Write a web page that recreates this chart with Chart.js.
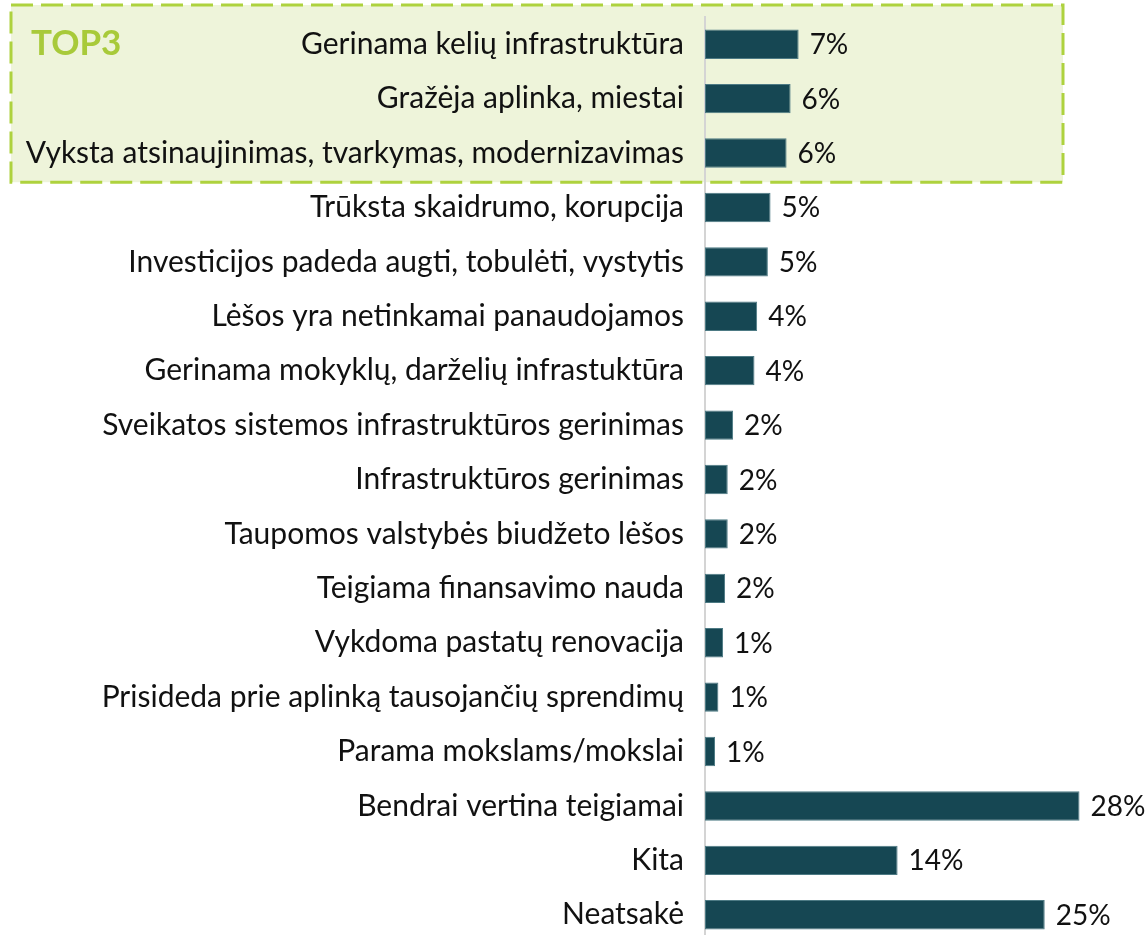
<!DOCTYPE html>
<html>
<head>
<meta charset="utf-8">
<script src="https://cdn.jsdelivr.net/npm/chart.js@4"></script>
<style>
  html, body { margin: 0; padding: 0; background: #fff; overflow: hidden; }
  #wrap { position: relative; width: 1147px; height: 942px; }
</style>
</head>
<body>
<div id="wrap"><canvas id="barChart"></canvas></div>
<script>
// categories (top to bottom)
const categories = [
  'Gerinama kelių infrastruktūra',
  'Gražėja aplinka, miestai',
  'Vyksta atsinaujinimas, tvarkymas, modernizavimas',
  'Trūksta skaidrumo, korupcija',
  'Investicijos padeda augti, tobulėti, vystytis',
  'Lėšos yra netinkamai panaudojamos',
  'Gerinama mokyklų, darželių infrastuktūra',
  'Sveikatos sistemos infrastruktūros gerinimas',
  'Infrastruktūros gerinimas',
  'Taupomos valstybės biudžeto lėšos',
  'Teigiama finansavimo nauda',
  'Vykdoma pastatų renovacija',
  'Prisideda prie aplinką tausojančių sprendimų',
  'Parama mokslams/mokslai',
  'Bendrai vertina teigiamai',
  'Kita',
  'Neatsakė'
];

// shares in %
const shares = [7.0, 6.4, 6.1, 4.9, 4.7, 3.9, 3.7, 2.1, 1.7, 1.7, 1.5, 1.35, 1.0, 0.75, 28.0, 14.4, 25.4];

const topCount = 3;
const topLabel = 'TOP3';

const FONT = 'Lato, "Open Sans", sans-serif';
const FONT_SIZE = 30;

// value labels at the end of every bar
const valueLabels = {
  id: 'valueLabels',
  afterDatasetsDraw(chart) {
    const c = chart.ctx;
    const meta = chart.getDatasetMeta(0);
    c.save();
    c.font = '28px ' + FONT;
    c.fillStyle = '#111';
    c.textAlign = 'left';
    c.textBaseline = 'middle';
    meta.data.forEach((bar, i) => {
      c.fillText(Math.round(shares[i]) + '%', bar.x + 11, bar.y + 1);
    });
    c.restore();
  }
};

// green dashed TOP3 box behind the first rows
const topBox = {
  id: 'topBox',
  beforeDraw(chart) {
    const c = chart.ctx;
    const y = chart.scales.y;
    const top = chart.chartArea.top - 12;
    const bottom = (y.getPixelForValue(topCount - 1) + y.getPixelForValue(topCount)) / 2 + 2;
    const left = 11, right = 1063;
    c.save();
    c.fillStyle = '#eef4da';
    c.fillRect(left, top, right - left, bottom - top);
    c.strokeStyle = '#aed23e';
    c.lineWidth = 3;
    c.setLineDash([22, 8]);
    c.strokeRect(left, top, right - left, bottom - top);
    c.setLineDash([]);
    c.font = 'bold 35px ' + FONT;
    c.fillStyle = '#a8ca3a';
    c.textAlign = 'left';
    c.textBaseline = 'alphabetic';
    c.fillText(topLabel, 31, 55);
    c.restore();
  }
};

new Chart(document.getElementById('barChart'), {
  type: 'bar',
  data: {
    labels: categories,
    datasets: [{
      data: shares,
      backgroundColor: '#164753',
      borderColor: '#4d7a84',
      borderWidth: 1,
      borderSkipped: false,
      categoryPercentage: 0.6,
      barPercentage: 0.9
    }]
  },
  options: {
    indexAxis: 'y',
    responsive: true,
    maintainAspectRatio: false,
    animation: false,
    layout: {
      padding: { top: 17, right: 14, bottom: 0, left: 0 }
    },
    plugins: {
      legend: { display: false },
      tooltip: { enabled: false }
    },
    scales: {
      x: {
        display: false,
        min: 0,
        max: 32
      },
      y: {
        afterFit(scale) {
          scale.width = 705;
          scale.paddingTop = 0;
          scale.paddingBottom = 0;
        },
        grid: { display: false, drawTicks: false },
        border: { display: true, color: '#d4d4d4', width: 2 },
        ticks: {
          padding: 21,
          color: '#111',
          font: { family: FONT, size: FONT_SIZE }
        }
      }
    }
  },
  plugins: [topBox, valueLabels]
});
</script>
</body>
</html>
